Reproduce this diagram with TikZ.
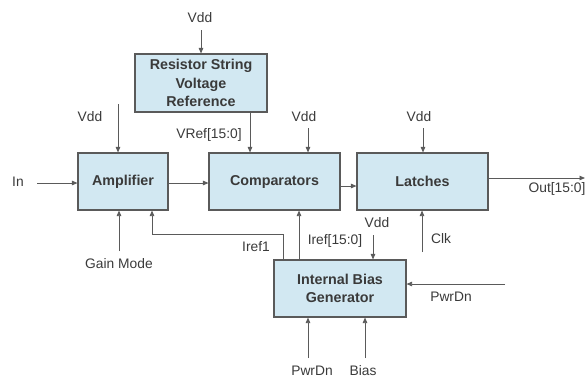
\documentclass[tikz,border=0pt]{standalone}
\usepackage{fontspec}
\setmainfont{Liberation Sans}
\usepackage{xcolor}
\usepackage{tikz}
\usetikzlibrary{arrows.meta,positioning,calc}
\definecolor{blkFill}{HTML}{D2E8F2}
\definecolor{blkLine}{HTML}{5A5A5A}
\definecolor{sigText}{HTML}{3A3A3A}
\tikzset{
  blk/.style={draw=blkLine, line width=1.1pt, fill=blkFill, align=center,
    font=\fontsize{14.3}{18.7}\selectfont\bfseries, text=sigText, inner sep=0pt},
  sig/.style={text=sigText, font=\fontsize{13.8}{15}\selectfont, inner sep=1pt},
  wire/.style={draw=blkLine, line width=0.8pt}
}
\begin{document}
\begin{tikzpicture}[x=1pt, y=-1pt, >={Stealth[length=5.5pt,width=4.5pt,inset=0pt]}]
\useasboundingbox (0,0) rectangle (586,378);
% ---- blocks ----
\node[blk, minimum width=132pt, minimum height=58pt] (res) at (201,83) {Resistor String\\Voltage\\Reference};
\node[blk, minimum width=90pt, minimum height=57pt] (amp) at (123,181.5) {Amplifier};
\node[blk, minimum width=131pt, minimum height=57pt] (comp) at (274.5,181.5) {Comparators};
\node[blk, minimum width=131pt, minimum height=57pt] (latch) at (422.5,181.5) {Latches};
\node[blk, minimum width=132pt, minimum height=57pt] (bias) at (340,288.5) {Internal Bias\\Generator};
% ---- supplies from above ----
\node[sig] (vddRes) at (200,18) {Vdd};
\coordinate (vddResIn) at (201,30);
\draw[wire,->] (vddResIn) -- (res.north);
\node[sig] (vddAmp) at (90,117) {Vdd};
\coordinate (vddAmpIn) at (118,104);
\draw[wire,->] (vddAmpIn) -- (vddAmpIn |- amp.north);
\node[sig] (vddComp) at (304,117) {Vdd};
\coordinate (vddCompIn) at (308,128);
\draw[wire,->] (vddCompIn) -- (vddCompIn |- comp.north);
\node[sig] (vddLatch) at (419,117) {Vdd};
\coordinate (vddLatchIn) at (423,128);
\draw[wire,->] (vddLatchIn) -- (vddLatchIn |- latch.north);
\node[sig] (vddBias) at (377,223) {Vdd};
\coordinate (vddBiasIn) at (373,235);
\draw[wire,->] (vddBiasIn) -- (vddBiasIn |- bias.north);
% ---- signal chain ----
\node[sig] (in) at (18,182) {In};
\coordinate (inStart) at (37,183);
\draw[wire,->] (inStart) -- (inStart -| amp.west);
\draw[wire,->] (amp.east |- 0,183) -- (comp.west |- 0,183);
\draw[wire,->] (comp.east |- 0,186) -- (latch.west |- 0,186);
\coordinate (outEnd) at (585,178);
\draw[wire,->] (latch.east |- outEnd) -- (outEnd);
\node[sig] (out) at (557,189) {Out[15:0]};
\draw[wire,->] (res.south -| 250,0) -- (comp.north -| 250,0);
\node[sig] (vref) at (209,135) {VRef[15:0]};
% ---- bias currents ----
\draw[wire,->] (bias.north -| 299,0) -- (comp.south -| 299,0);
\node[sig] (irefBus) at (335,241) {Iref[15:0]};
\draw[wire,->] (bias.north -| 283,0) |- (152,234) -- (amp.south -| 152,0);
\node[sig] (iref1) at (256,247) {Iref1};
% ---- control inputs ----
\node[sig] (gain) at (119,264) {Gain Mode};
\coordinate (gainIn) at (119,251);
\draw[wire,->] (gainIn) -- (gainIn |- amp.south);
\node[sig] (clk) at (441,239) {Clk};
\coordinate (clkIn) at (422,252);
\draw[wire,->] (clkIn) -- (clkIn |- latch.south);
\node[sig] (pdRight) at (451,297) {PwrDn};
\coordinate (pdRightIn) at (505,284);
\draw[wire,->] (pdRightIn) -- (pdRightIn -| bias.east);
\node[sig] (pdBottom) at (312,371) {PwrDn};
\coordinate (pdBottomIn) at (308,358);
\draw[wire,->] (pdBottomIn) -- (pdBottomIn |- bias.south);
\node[sig] (biasSig) at (363,371) {Bias};
\coordinate (biasIn) at (365,358);
\draw[wire,->] (biasIn) -- (biasIn |- bias.south);
\end{tikzpicture}
\end{document}
